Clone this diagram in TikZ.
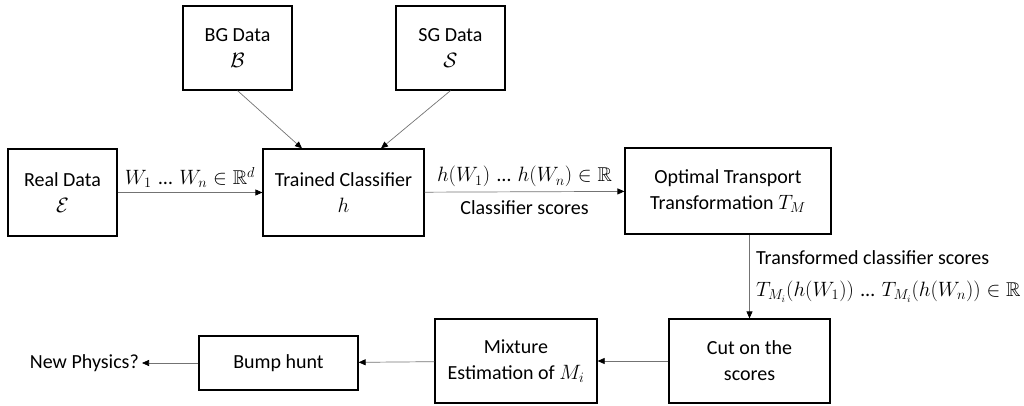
\documentclass[tikz,border=0pt]{standalone}
\usepackage{amsmath,amssymb}
\usepackage{fontspec}
\setmainfont{Carlito}
\usetikzlibrary{arrows.meta}
\newcommand{\mydots}{\mathinner{\,\text{…}\,}}
\begin{document}
\begin{tikzpicture}[x=1pt,y=-1pt,
  box/.style={draw=black, line width=1.2pt, inner sep=0pt, align=center,
    font=\fontsize{20}{26}\selectfont},
  conn/.style={draw=black!55, line width=0.7pt,
    -{Triangle[length=7pt,width=6pt,color=black]}},
  lbl/.style={font=\fontsize{20}{26}\selectfont, text=black}]
\useasboundingbox (0,0) rectangle (1024,406);
\node[box, minimum width=109pt, minimum height=84pt] (bg) at (237.5,48) {BG Data\\$\mathcal{B}$};
\node[box, minimum width=109pt, minimum height=84pt] (sg) at (450.5,48) {SG Data\\$\mathcal{S}$};
\node[box, minimum width=109pt, minimum height=87pt] (real) at (62.5,192.5) {Real Data\\$\mathcal{E}$};
\node[box, minimum width=161pt, minimum height=87pt] (tc) at (343.5,192.5) {Trained Classifier\\$h$};
\node[box, minimum width=206pt, minimum height=86pt] (ot) at (728,191) {Optimal Transport\\Transformation $T_M$};
\node[box, minimum width=161pt, minimum height=84pt] (cut) at (749.5,361) {Cut on the\\scores};
\node[box, minimum width=162pt, minimum height=84pt] (mix) at (516,361) {Mixture\\Estimation of $M_i$};
\node[box, minimum width=159pt, minimum height=54pt] (bump) at (278.5,363) {Bump hunt};
\node[lbl, anchor=east, inner sep=0pt] (np) at (139,363) {New Physics?};

\draw[conn] (bg.south) -- ([xshift=-41.5pt]tc.north);
\draw[conn] (sg.south) -- ([xshift=37.5pt]tc.north);
\draw[conn] (real) -- node[lbl, above=1pt] {$W_1 \mydots W_n \in \mathbb{R}^d$} (tc);
\draw[conn] (tc) -- node[lbl, above=1pt] {$h(W_1) \mydots h(W_n) \in \mathbb{R}$}
  node[lbl, below=5pt] {Classifier scores} (ot);
\draw[conn] (ot.south -| cut.north) -- node[lbl, right=3pt, align=left]
  {Transformed classifier scores\\[6pt]$T_{M_i}(h(W_1)) \mydots T_{M_i}(h(W_n)) \in \mathbb{R}$} (cut.north);
\draw[conn] (cut) -- (mix);
\draw[conn] (mix) -- (bump);
\draw[conn] (bump) -- ([xshift=3pt]np.east);
\end{tikzpicture}
\end{document}
